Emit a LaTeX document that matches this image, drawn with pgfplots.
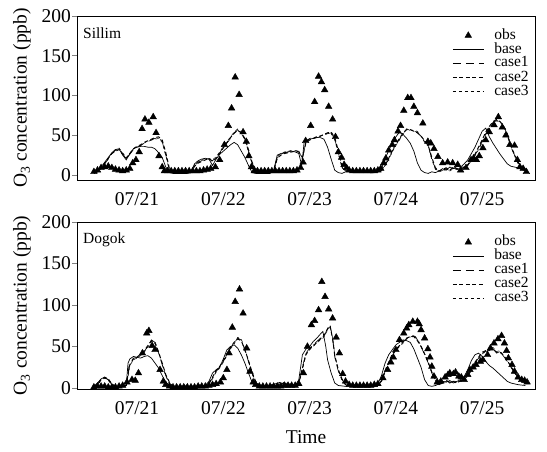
\documentclass[border=0pt]{standalone}
\usepackage{fontspec}
\setmainfont{Liberation Serif}
\usepackage{pgfplots}
\pgfplotsset{compat=1.18}
\newcommand{\bigf}{\fontsize{19.5}{23}\selectfont}
\newcommand{\legf}{\fontsize{15.5}{17}\selectfont}
\pgfplotsset{
  panel/.style={
    scale only axis, width=458pt,
    xmin=-4.7, xmax=122.7, ymax=200,
    xtick={12,36,60,84,108},
    xticklabels={07/21,07/22,07/23,07/24,07/25},
    ytick={0,50,100,150,200},
    ytick pos=left, tick align=outside, major tick length=5pt,
    xtick style={draw=none},
    ytick style={line width=0.8pt},
    axis line style={line width=0.9pt},
    /pgf/number format/assume math mode=true,
    tick label style={font=\bigf},
    yticklabel style={inner xsep=1pt},
    xticklabel style={yshift=-4pt},
    label style={font=\bigf},
    ylabel={O\textsubscript{3} concentration (ppb)},
    ylabel style={at={(axis description cs:-0.12,0.5)}, anchor=center},
    legend style={draw=none, fill=none, inner sep=0pt, font=\legf,
      nodes={inner sep=0pt, text height=10.5pt, text depth=3.5pt},
      /tikz/every odd column/.append style={column sep=10pt}},
    legend cell align=left,
    legend image code/.code={\draw[#1] (0pt,0pt) -- (31pt,0pt);},
  },
  obsstyle/.style={only marks, mark=triangle*, mark size=3.8pt, black,
    legend image code/.code={\draw[#1] plot coordinates {(15.5pt,0pt)};}},
  basestyle/.style={no markers, black, line width=0.7pt},
  c1style/.style={no markers, black, line width=0.6pt, dash pattern=on 8pt off 5pt},
  c2style/.style={no markers, black, line width=1.0pt, dash pattern=on 4pt off 2.5pt},
  c3style/.style={no markers, black, line width=0.5pt, dash pattern=on 3pt off 3pt},
}
\begin{document}
\begin{tikzpicture}
\useasboundingbox (0pt,0pt) rectangle (547pt,-452pt);
% ---------------- Sillim ----------------
\begin{axis}[panel, at={(77pt,-180pt)}, anchor=south west, height=164pt, ymin=-6.3,
  legend style={at={(rel axis cs:0.819,0.925)}, anchor=north west}]
\addplot[obsstyle] coordinates {
(0,4)(1,6)(2,9)(3,10)(4,11)(5,9)(6,7)(7,6)(8,5)(9,6)(10,8)(10.8,15)(11.7,19)(12.6,29)(13.4,58)(14.2,70)(15.3,66)(16.5,73)(17.3,53)(18.1,24)(19,10)(19.6,5)(20.5,5)(21.5,5)(22.5,5)(23.5,5)
(24.5,5)(25.5,5)(26.5,5)(27.5,5)(28.5,5)(29.5,5)(30.5,6)(31.5,7)(32.5,8)(33.8,10)(35,19)(36.3,38)(37.4,62)(38.3,84)(39.3,123)(40.4,101)(41.5,54)(42.4,42)(43.1,24)(43.8,10)(44.6,5)(45.5,5)(46.5,5)(47.5,5)
(48.5,5)(49.5,5)(50.5,5)(51.5,5)(52.5,5)(53.5,5)(54.5,5)(55.5,5)(56.5,6)(57.5,9)(58.2,16)(58.9,43)(60.3,62)(61.4,92)(62.5,124)(63.3,117)(64.2,107)(65.3,86)(66.4,70)(67.2,48)(68,29)(68.9,22)(69.6,13)(70.3,9)(71,6)(72,5)
(73,5)(74,5)(75,5)(76,5)(77,5)(78,5)(79,6)(79.8,8)(80.6,15)(81.2,21)(82,31)(83,38)(83.6,44)(84.6,55)(85.3,62)(86.2,81)(87.3,97)(88.2,97)(89,86)(90,78)(91.5,65)(92.9,42)(93.7,40)(94.6,33)(95.7,23)
(97,15)(98.4,16)(99.8,15)(101.2,13)(102,6)(103.5,9)(104.9,19)(105.6,21)(106.4,19)(107.2,24)(108.2,34)(109,44)(110,54)(111.3,63)(112.5,73)(113.6,60)(114.6,50)(115.7,38)(117,37)(117.8,19)(118.5,10)(119.4,8)(120.3,4)
};
\addlegendentry{obs}
\addplot[basestyle] coordinates {
(0,3)(1,5)(2,10)(3,16)(4,22)(5,28)(6,32)(7,33)(8,25)(9,19)(10,27)(11,33)(12,35)(13,36)(14,36)(15,35)(16,35)(17,33)(18,28)(19,22)(20,10)(21,3)(22,2)(24,2)(26,2)(27,4)(28,14)(29,18)(30,20)(31,21)(32,20)(33,12)(34,20)(35,26)(36,30)(37,34)(38,38)(39,41)(40,38)(41,30)(42,22)(43,12)(44,3)(45,2)(47,2)(49,2)(50,6)(51,25)(52,27)(53,28)(54,29)(55,30)(56,29)(57,27)(57.8,12)(58.5,42)(59,44)(60,45)(61,46)(62,47)(63,47)(64,45)(65,35)(66,20)(67,6)(68,3)(69,2)(70,4)(71,6)(72,4)(73,5)(74,3)(75,5)(76,4)(77,3)(78,3)(79,5)(80,8)(81,20)(82,31)(83,40)(84,48)(85,54)(86,51)(87,46)(88,40)(89,30)(90,15)(91,6)(92,3)(93,2)(94,4)(95,3)(96,5)(97,8)(98,6)(99,10)(100,8)(101,11)(102,10)(103,14)(104,19)(105,27)(106,35)(107,45)(108,55)(109,59)(110,48)(111,40)(112,33)(113,26)(114,20)(115,14)(116,11)(117,10)(118,9)(119,7)(120,5)
};
\addlegendentry{base}
\addplot[c1style] coordinates {
(0,2)(1,4)(2,8)(3,14)(4,20)(5,27)(6,31)(7,33)(8,27)(9,20)(10,26)(11,32)(12,35)(13,37)(14,40)(15,42)(16,44)(17,46)(18,47)(19,42)(20,25)(21,6)(22,2)(24,2)(26,2)(27,3)(28,12)(29,16)(30,18)(31,20)(32,20)(33,18)(34,22)(35,28)(36,35)(37,40)(38,46)(39,52)(40,57)(41,52)(42,45)(43,30)(44,15)(45,6)(46,3)(48,2)(50,4)(51,22)(52,26)(53,28)(54,29)(55,30)(56,30)(57,30)(58,20)(59,42)(60,45)(61,46)(62,47)(63,48)(64,50)(65,52)(66,53)(67,45)(68,28)(69,10)(70,5)(71,7)(72,5)(73,6)(74,4)(75,6)(76,4)(77,3)(78,3)(79,4)(80,5)(81,12)(82,20)(83,30)(84,38)(85,45)(86,52)(87,58)(88,56)(89,55)(90,54)(91,48)(92,42)(93,38)(94,20)(95,8)(96,4)(97,6)(98,8)(99,5)(100,9)(101,7)(102,8)(103,10)(104,12)(105,18)(106,25)(107,33)(108,42)(109,52)(110,60)(111,66)(112,69)(113,66)(114,60)(115,52)(116,35)(117,25)(118,15)(119,10)(120,7)
};
\addlegendentry{case1}
\addplot[c2style] coordinates {
(0,2)(1,4)(2,9)(3,15)(4,21)(5,27)(6,30)(7,32)(8,26)(9,21)(10,27)(11,33)(12,36)(13,38)(14,41)(15,43)(16,45)(17,47)(18,48)(19,44)(20,28)(21,8)(22,3)(24,2)(26,2)(27,3)(28,11)(29,15)(30,17)(31,19)(32,21)(33,17)(34,21)(35,27)(36,34)(37,41)(38,47)(39,53)(40,56)(41,53)(42,46)(43,32)(44,16)(45,7)(46,3)(48,2)(50,4)(51,21)(52,25)(53,27)(54,28)(55,29)(56,30)(57,29)(58,22)(59,41)(60,44)(61,46)(62,48)(63,49)(64,51)(65,53)(66,54)(67,47)(68,30)(69,12)(70,6)(71,6)(72,5)(73,7)(74,5)(75,5)(76,4)(77,3)(78,3)(79,4)(80,6)(81,13)(82,21)(83,31)(84,39)(85,46)(86,53)(87,57)(88,57)(89,55)(90,53)(91,49)(92,43)(93,37)(94,22)(95,9)(96,5)(97,7)(98,9)(99,6)(100,10)(101,8)(102,7)(103,10)(104,13)(105,19)(106,26)(107,35)(108,44)(109,54)(110,61)(111,67)(112,70)(113,67)(114,61)(115,50)(116,36)(117,26)(118,16)(119,11)(120,8)
};
\addlegendentry{case2}
\addplot[c3style] coordinates {
(0,3)(1,5)(2,9)(3,14)(4,21)(5,28)(6,32)(7,34)(8,28)(9,22)(10,27)(11,33)(12,36)(13,37)(14,40)(15,43)(16,44)(17,45)(18,46)(19,41)(20,24)(21,6)(22,2)(24,2)(26,3)(27,3)(28,13)(29,17)(30,19)(31,21)(32,21)(33,19)(34,23)(35,29)(36,36)(37,42)(38,48)(39,54)(40,58)(41,54)(42,44)(43,29)(44,14)(45,5)(46,3)(48,2)(50,5)(51,23)(52,27)(53,29)(54,30)(55,31)(56,31)(57,30)(58,19)(59,43)(60,46)(61,47)(62,48)(63,49)(64,51)(65,53)(66,52)(67,44)(68,26)(69,9)(70,5)(71,8)(72,6)(73,5)(74,4)(75,7)(76,4)(77,3)(78,4)(79,5)(80,6)(81,12)(82,19)(83,29)(84,37)(85,44)(86,51)(87,58)(88,57)(89,56)(90,55)(91,49)(92,41)(93,36)(94,19)(95,7)(96,4)(97,5)(98,7)(99,5)(100,8)(101,7)(102,9)(103,11)(104,12)(105,17)(106,24)(107,32)(108,41)(109,51)(110,59)(111,65)(112,68)(113,67)(114,62)(115,53)(116,37)(117,24)(118,14)(119,9)(120,6)
};
\addlegendentry{case3}
\node[anchor=west, font=\legf, inner sep=0pt] at (rel axis cs:0.013,0.896) {Sillim};
\end{axis}
% ---------------- Dogok ----------------
\begin{axis}[panel, at={(77pt,-389pt)}, anchor=south west, height=167pt, ymin=-1.2,
  xlabel={Time}, xlabel style={at={(axis description cs:0.5,0)}, anchor=center, yshift=-48pt},
  legend style={at={(rel axis cs:0.819,0.922)}, anchor=north west}]
\addplot[obsstyle] coordinates {
(0,1)(1,2)(2,2)(3,2)(4,1)(5,1)(6,1)(7,2)(8,3)(9.2,7)(10.6,10)(11.5,9)(12.4,18)(13.5,42)(14.7,66)(15.3,69)(16.2,51)(17,46)(18.4,22)(19.3,8)(20,4)(21,2)(22,1)(23,1)
(24,1)(25,1)(26,1)(27,1)(28,1)(29,2)(30,2)(31,2)(32,3)(33,4)(34,5)(35.2,7)(36,12)(37,22)(37.6,42)(38.5,73)(39.3,104)(40.5,119)(41.5,90)(42.5,48)(43.4,20)(44.3,7)(45,4)(46,2)(47,2)
(48,2)(49,2)(50,2)(51,2)(52,2)(53,3)(54,3)(55,3)(56,3)(57,5)(58.3,18)(59.4,50)(60.5,76)(61.4,81)(62.5,94)(63.4,128)(64.3,110)(65.3,95)(66.4,84)(67.4,61)(68.3,42)(69.2,17)(70,8)(71,4)(72,3)
(73,3)(74,3)(75,3)(76,3)(77,3)(78,4)(79,5)(80.4,12)(81.7,22)(82.6,31)(83.3,37)(84,46)(85,58)(86.2,66)(87,72)(87.6,76)(88.7,80)(90,80)(90.5,77)(91,70)(92,60)(92.9,47)(93.5,37)(94,26)(94.6,14)(95.5,7)
(96.5,8)(97.7,13)(98.5,16)(99,18)(100,17)(100.6,19)(101.5,14)(102.2,13)(103,10)(104,16)(104.6,22)(105.5,25)(106.3,28)(107.5,32)(108.2,34)(109.5,40)(110.3,48)(111.3,54)(112.4,59)(113.4,63)(114.2,54)(114.8,45)(115.3,36)(116.3,28)(117,20)(118,13)(119,10)(119.8,9)(120.5,7)
};
\addlegendentry{obs}
\addplot[basestyle] coordinates {
(0,2)(1,6)(2,11)(3,13)(4,10)(5,4)(6,2)(7,2)(8,2)(9,4)(9.5,30)(10,35)(11,38)(12,37)(13,36)(14,38)(15,39)(16,36)(17,30)(18,24)(19,15)(20,7)(21,3)(22,2)(24,2)(26,2)(28,2)(30,2)(31,3)(32,8)(33,18)(34,22)(35,25)(36,35)(37,46)(38,50)(39,52)(40,48)(41,40)(42,30)(43,18)(44,7)(45,3)(46,2)(48,2)(50,3)(52,5)(54,4)(56,3)(57,10)(58,40)(59,47)(60,50)(61,56)(62,60)(63,65)(63.7,68)(64.5,50)(65,34)(66,18)(67,6)(68,3)(70,2)(72,3)(74,2)(76,3)(78,2)(79,5)(80,15)(81,30)(82,40)(83,46)(84,52)(85,55)(86,58)(87,57)(88,55)(89,47)(90,36)(91,25)(92,10)(93,3)(94,2)(95,3)(96,5)(97,8)(98,7)(99,9)(100,6)(101,8)(102,10)(103,14)(104,22)(105,33)(106,40)(107,42)(108,38)(109,32)(110,27)(111,24)(112,20)(113,16)(114,12)(115,8)(116,6)(117,5)(118,4)(120,3)
};
\addlegendentry{base}
\addplot[c1style] coordinates {
(0,1)(1,4)(2,9)(3,12)(4,10)(5,5)(6,2)(8,2)(9,3)(9.7,25)(10,30)(11,36)(12,37)(13,40)(14,44)(15,50)(16,58)(17,55)(18,42)(19,28)(20,15)(21,6)(22,2)(24,2)(26,2)(28,2)(30,2)(31,3)(32,5)(33,12)(34,20)(35,25)(36,32)(37,40)(38,48)(39,54)(40,60)(41,58)(42,45)(43,32)(44,18)(45,7)(46,3)(48,2)(50,4)(52,6)(54,4)(56,3)(57,5)(58,25)(59,42)(60,48)(61,52)(62,56)(63,60)(64,62)(65,72)(65.7,76)(66.5,55)(67,37)(68,20)(69,10)(70,4)(72,3)(74,2)(76,3)(78,2)(79,3)(80,8)(81,20)(82,30)(83,40)(84,46)(85,50)(86,55)(87,60)(88,62)(89,63)(90,58)(91,50)(92,40)(93,30)(94,18)(95,10)(96,4)(97,7)(98,9)(99,6)(100,8)(101,7)(102,8)(103,11)(104,15)(105,22)(106,30)(107,36)(108,42)(109,44)(110,45)(111,48)(112,42)(113,44)(114,38)(115,32)(116,25)(117,18)(118,12)(119,8)(120,5)
};
\addlegendentry{case1}
\addplot[c2style] coordinates {
(0,1)(1,5)(2,10)(3,13)(4,11)(5,5)(6,2)(8,2)(9,3)(9.7,22)(10,28)(11,35)(12,37)(13,41)(14,45)(15,51)(16,57)(17,54)(18,43)(19,30)(20,16)(21,7)(22,2)(24,2)(26,2)(28,2)(30,3)(31,3)(32,6)(33,13)(34,21)(35,26)(36,33)(37,41)(38,49)(39,55)(40,59)(41,57)(42,46)(43,33)(44,19)(45,8)(46,3)(48,2)(50,4)(52,7)(54,5)(56,3)(57,6)(58,24)(59,41)(60,47)(61,51)(62,55)(63,59)(64,63)(65,71)(65.7,75)(66.5,57)(67,39)(68,22)(69,11)(70,4)(72,3)(74,3)(76,3)(78,2)(79,3)(80,9)(81,21)(82,31)(83,41)(84,47)(85,51)(86,56)(87,60)(88,62)(89,62)(90,57)(91,50)(92,41)(93,31)(94,19)(95,10)(96,4)(97,6)(98,9)(99,7)(100,8)(101,6)(102,9)(103,12)(104,16)(105,23)(106,31)(107,37)(108,43)(109,45)(110,46)(111,47)(112,43)(113,43)(114,39)(115,33)(116,26)(117,19)(118,13)(119,9)(120,6)
};
\addlegendentry{case2}
\addplot[c3style] coordinates {
(0,2)(1,5)(2,9)(3,12)(4,9)(5,4)(6,2)(8,2)(9,3)(9.8,20)(10,27)(11,34)(12,36)(13,39)(14,43)(15,49)(16,56)(17,56)(18,44)(19,29)(20,14)(21,5)(22,2)(24,2)(26,3)(28,2)(30,2)(31,3)(32,5)(33,11)(34,19)(35,24)(36,31)(37,39)(38,47)(39,53)(40,61)(41,59)(42,47)(43,33)(44,17)(45,6)(46,3)(48,2)(50,5)(52,6)(54,4)(56,4)(57,5)(58,22)(59,40)(60,46)(61,50)(62,54)(63,58)(64,61)(65,70)(65.8,74)(66.5,58)(67,40)(68,21)(69,9)(70,4)(72,3)(74,2)(76,4)(78,2)(79,3)(80,7)(81,19)(82,29)(83,39)(84,45)(85,50)(86,54)(87,59)(88,61)(89,64)(90,59)(91,51)(92,41)(93,31)(94,19)(95,9)(96,4)(97,7)(98,8)(99,6)(100,9)(101,7)(102,8)(103,10)(104,14)(105,21)(106,29)(107,35)(108,41)(109,44)(110,46)(111,49)(112,44)(113,45)(114,39)(115,33)(116,26)(117,18)(118,12)(119,8)(120,5)
};
\addlegendentry{case3}
\node[anchor=west, font=\legf, inner sep=0pt] at (rel axis cs:0.013,0.892) {Dogok};
\end{axis}
\end{tikzpicture}
\end{document}
